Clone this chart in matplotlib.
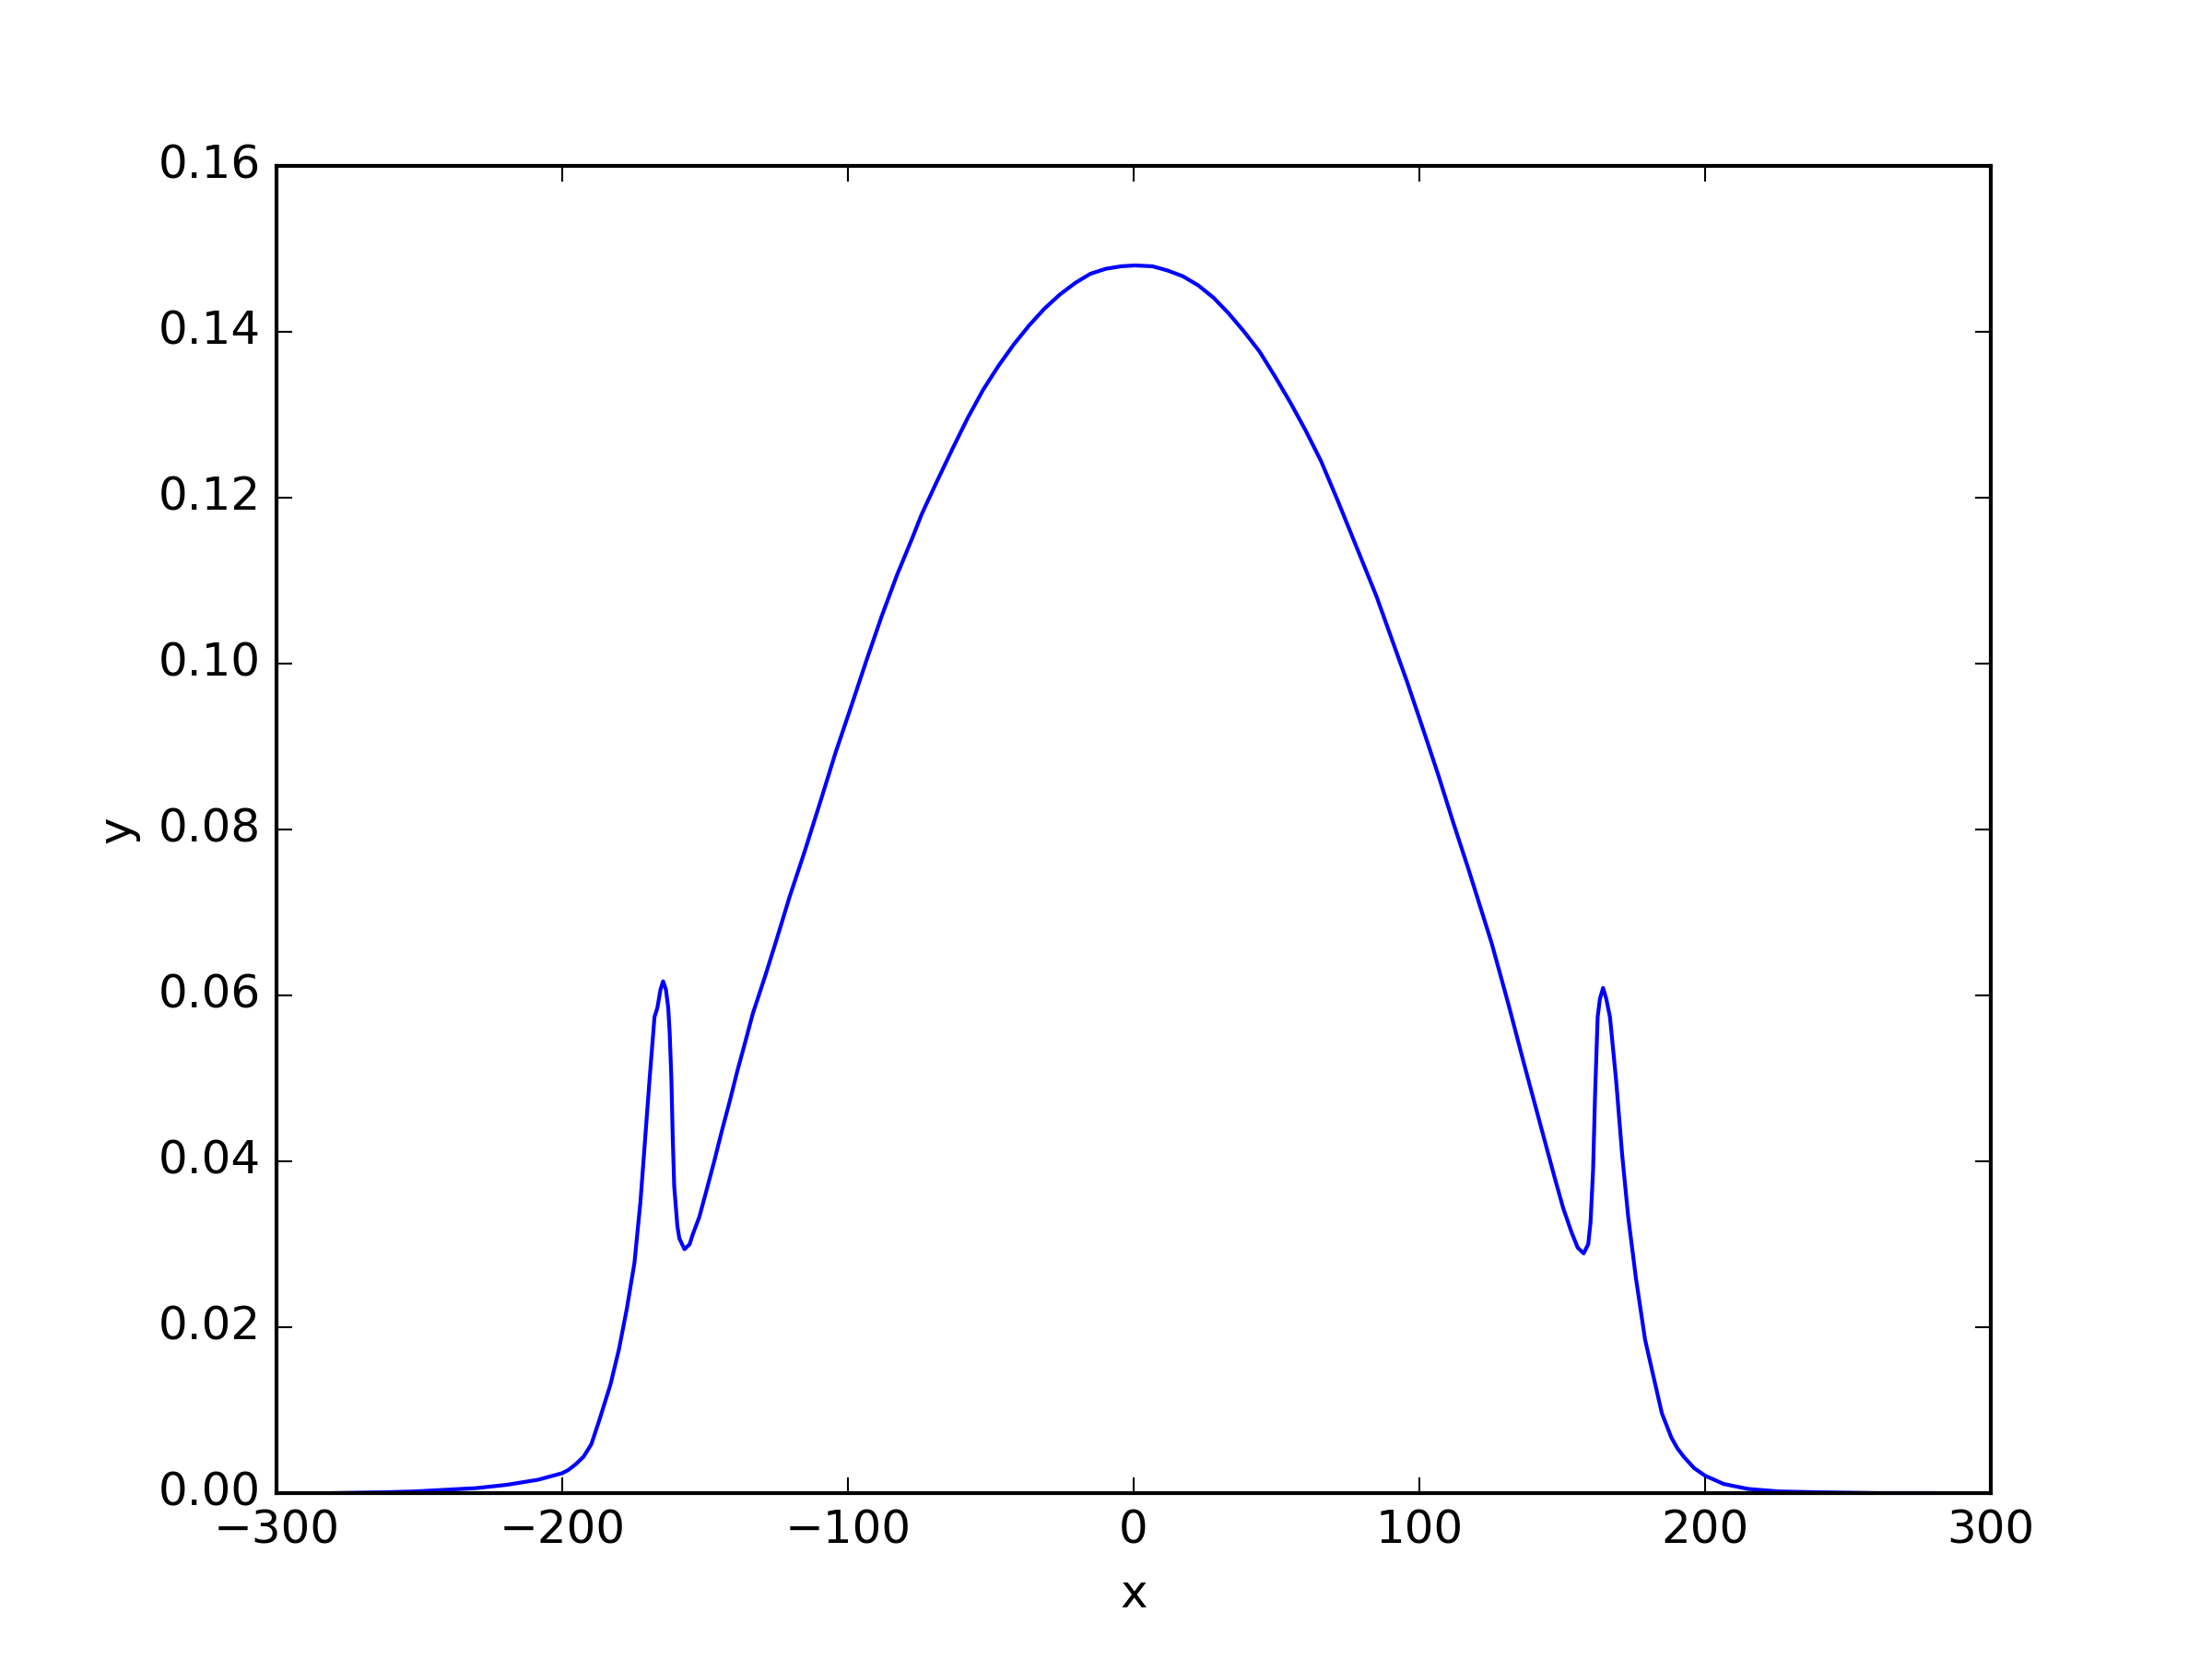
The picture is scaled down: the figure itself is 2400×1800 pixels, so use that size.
import matplotlib
matplotlib.use("Agg")
import matplotlib.pyplot as plt

plt.style.use("classic")

x_vals = [-280.0, -262.4, -251.6, -240.9, -230.1, -219.4, -208.6, -200.0, -197.8,
          -195.2, -192.5, -189.8, -187.1, -183.1, -180.1, -177.4, -174.7, -172.6,
          -171.0, -169.4, -167.7, -166.7, -165.6, -164.7, -163.7, -162.9, -162.4,
          -161.8, -161.3, -160.8, -159.7, -159.0, -157.2, -155.4, -154.4, -152.0,
          -149.5, -146.8, -144.1, -141.4, -138.7, -136.0, -133.3, -129.0, -125.0,
          -120.4, -115.1, -109.7, -104.3, -98.9, -93.5, -88.2, -82.8, -77.4,
          -74.2, -68.8, -63.4, -58.1, -52.7, -47.3, -41.9, -36.5, -31.2, -25.8,
          -20.4, -15.1, -9.7, -4.3, 0.5, 6.5, 11.8, 17.2, 22.6, 28.0, 33.3, 38.7,
          44.1, 49.5, 54.8, 60.2, 65.6, 71.0, 73.6, 79.6, 85.0, 90.3, 95.7, 101.1,
          106.5, 111.8, 117.2, 125.3, 131.2, 136.6, 141.9, 147.3, 150.3, 153.2,
          155.4, 157.5, 159.1, 159.9, 160.8, 161.5, 162.4, 163.2, 164.3, 165.4,
          166.7, 168.8, 171.0, 173.1, 175.8, 179.0, 182.5, 184.9, 188.2, 190.3,
          192.5, 196.2, 200.0, 206.5, 215.1, 225.8, 240.0, 260.0, 280.0]
y_vals = [0.0000, 0.0001, 0.0002, 0.0004, 0.0006, 0.0010, 0.0016, 0.0024, 0.0028,
          0.0035, 0.0044, 0.0059, 0.0087, 0.0131, 0.0174, 0.0222, 0.0278, 0.0352,
          0.0426, 0.0500, 0.0574, 0.0585, 0.0607, 0.0617, 0.0607, 0.0585, 0.0556,
          0.0500, 0.0426, 0.0370, 0.0322, 0.0307, 0.0294, 0.0300, 0.0311, 0.0333,
          0.0365, 0.0400, 0.0437, 0.0472, 0.0509, 0.0543, 0.0578, 0.0623, 0.0667,
          0.0719, 0.0774, 0.0833, 0.0893, 0.0948, 0.1004, 0.1057, 0.1107, 0.1152,
          0.1180, 0.1220, 0.1259, 0.1296, 0.1330, 0.1359, 0.1385, 0.1408, 0.1428, 0.1445,
          0.1459, 0.1470, 0.1476, 0.1479, 0.1480, 0.1479, 0.1474, 0.1467, 0.1456, 0.1441, 0.1422, 0.1400,
          0.1376, 0.1346, 0.1315, 0.1281, 0.1244, 0.1200, 0.1178, 0.1127, 0.1081, 0.1030, 0.0978, 0.0923,
          0.0867, 0.0809, 0.0752, 0.0663, 0.0589, 0.0518, 0.0450, 0.0381, 0.0344, 0.0315,
          0.0296, 0.0289, 0.0300, 0.0326, 0.0389, 0.0481, 0.0574, 0.0596, 0.0609, 0.0596,
          0.0574, 0.0500, 0.0407, 0.0333, 0.0259, 0.0185, 0.0132, 0.0096, 0.0067, 0.0054,
          0.0044, 0.0030, 0.0021, 0.0011, 0.0005, 0.0002, 0.0001, 0.0000, 0.0000]

x_ticks = [-300, -200, -100, 0, 100, 200, 300]
y_ticks = [0.00, 0.02, 0.04, 0.06, 0.08, 0.10, 0.12, 0.14, 0.16]

fig = plt.figure(figsize=(8, 6), dpi=300, facecolor="white")
ax = fig.add_subplot(111)
ax.plot(x_vals, y_vals, color="b", linewidth=1.0)
ax.set_xlim(-300, 300)
ax.set_ylim(0, 0.16)
ax.set_xticks(x_ticks)
ax.set_yticks(y_ticks)
ax.set_xlabel("x")
ax.set_ylabel("y")
fig.savefig("out.png", dpi=300, facecolor="white")
